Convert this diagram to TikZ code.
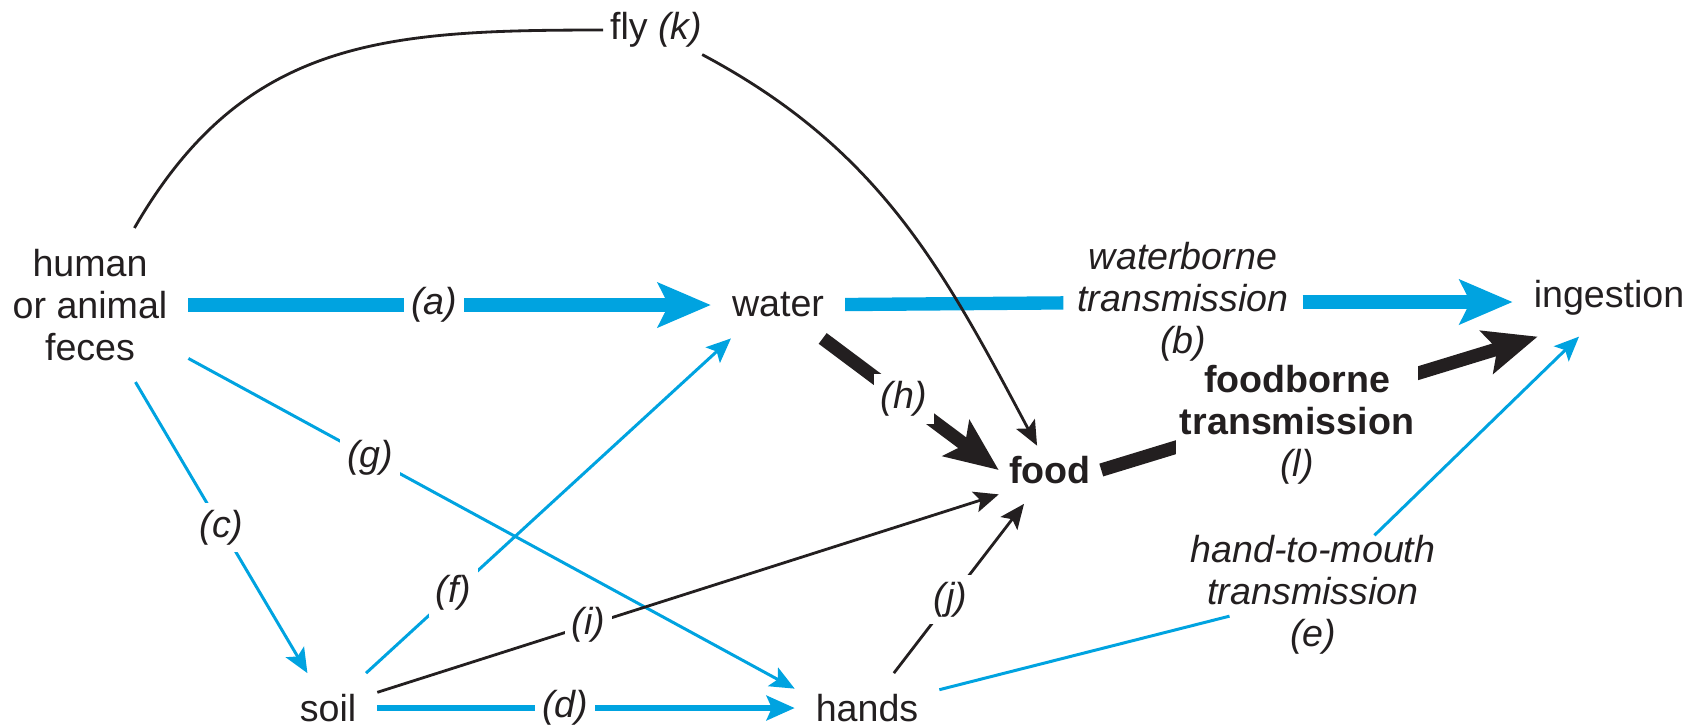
\documentclass[tikz,border=0pt]{standalone}
\usepackage{fontspec}
\setmainfont{Liberation Sans}
\usepackage{tikz}
\usetikzlibrary{arrows.meta}
\definecolor{route}{RGB}{0, 163, 224}
\definecolor{ink}{RGB}{35, 31, 32}
\newcommand{\diafont}{\fontsize{10.7}{12}\selectfont}

\begin{document}
\begin{tikzpicture}[every node/.style={font=\diafont, text=ink, align=center, inner sep=3pt, outer sep=3pt},
  tag/.style={font=\diafont\itshape, fill=white, inner sep=2pt, outer sep=0pt},
  bigblue/.style={draw=route, line width=3.8pt},
  bigblack/.style={draw=ink, line width=3.8pt},
  bighead/.style={-{Stealth[length=15pt, width=12.5pt, inset=3pt]}},
  thinblue/.style={draw=route, line width=0.85pt, -{Stealth[length=7pt, width=6pt, inset=1.5pt]}},
  thinblack/.style={draw=ink, line width=0.8pt, -{Stealth[length=7pt, width=6pt, inset=1.5pt]}}]
  \useasboundingbox (0,0) rectangle (17.01,-7.26);
  % sources and routes
  \node (feces) at (0.90,-3.05) {human\\or animal\\feces};
  \node (water) at (7.78,-3.05) {water};
  \node (ingest) at (16.09,-2.98) {ingestion};
  \node[font=\diafont\bfseries, inner sep=1pt, outer sep=2pt] (food) at (10.50,-4.70) {food};
  \node (soil) at (3.28,-7.08) {soil};
  \node (hands) at (8.67,-7.08) {hands};
  \node[inner sep=1pt, outer sep=1pt] (fly) at (6.56,-0.30) {fly \textit{(k)}};
  \node[font=\diafont\itshape, inner sep=2pt, outer sep=2pt] (wb) at (11.83,-3.02) {waterborne\\transmission\\(b)};
  \node[font=\diafont\itshape, inner sep=0pt, outer sep=0pt] (htm) at (13.13,-5.95) {hand-to-mouth\\transmission\\(e)};
  % thick routes
  \draw[bigblue, bighead] (feces) -- node[tag, pos=0.47] {(a)} (water);
  \draw[bigblue] (water) -- (wb);
  \draw[bigblue, bighead] (wb) -- (wb -| ingest.west);
  \draw[bigblack, bighead] (water) -- node[tag, pos=0.46] {(h)} (food.west);
  \draw[bigblack, bighead] (food.east) -- ([xshift=0.25cm]ingest.south west);
  \node[font=\diafont\bfseries, fill=white, inner sep=1pt, outer sep=0pt] (fbt) at (12.97,-4.25)
    {foodborne\\transmission\\\mdseries\itshape (l)};
  % thin routes
  \draw[thinblue] (feces) -- node[tag, pos=0.5] {(c)} (soil);
  \draw[thinblue] (feces) -- node[tag, pos=0.3] {(g)} (hands.165);
  \draw[thinblue] (soil) -- node[tag, pos=0.24] {(f)} ([xshift=0.2cm]water.south west);
  \draw[thinblue, line width=1.5pt, -{Stealth[length=8pt, width=7pt, inset=1.5pt]}]
    (soil) -- node[tag, pos=0.45] {(d)} (hands);
  \draw[thinblue, -, shorten >=-0.4cm] (hands) -- (htm);
  \draw[thinblue] (htm) -- ([xshift=-0.3cm]ingest.south);
  \draw[thinblack] (soil) -- node[tag, pos=0.34] {(i)} (food.south west);
  \draw[thinblack, shorten >=0.12cm] (hands) -- node[tag, pos=0.41] {(j)} (food);
  % the fly
  \draw[thinblack, -] (feces) to[out=60, in=180, looseness=1.1] (fly);
  \draw[thinblack] (fly) to[out=-28, in=118] (food);
\end{tikzpicture}
\end{document}
